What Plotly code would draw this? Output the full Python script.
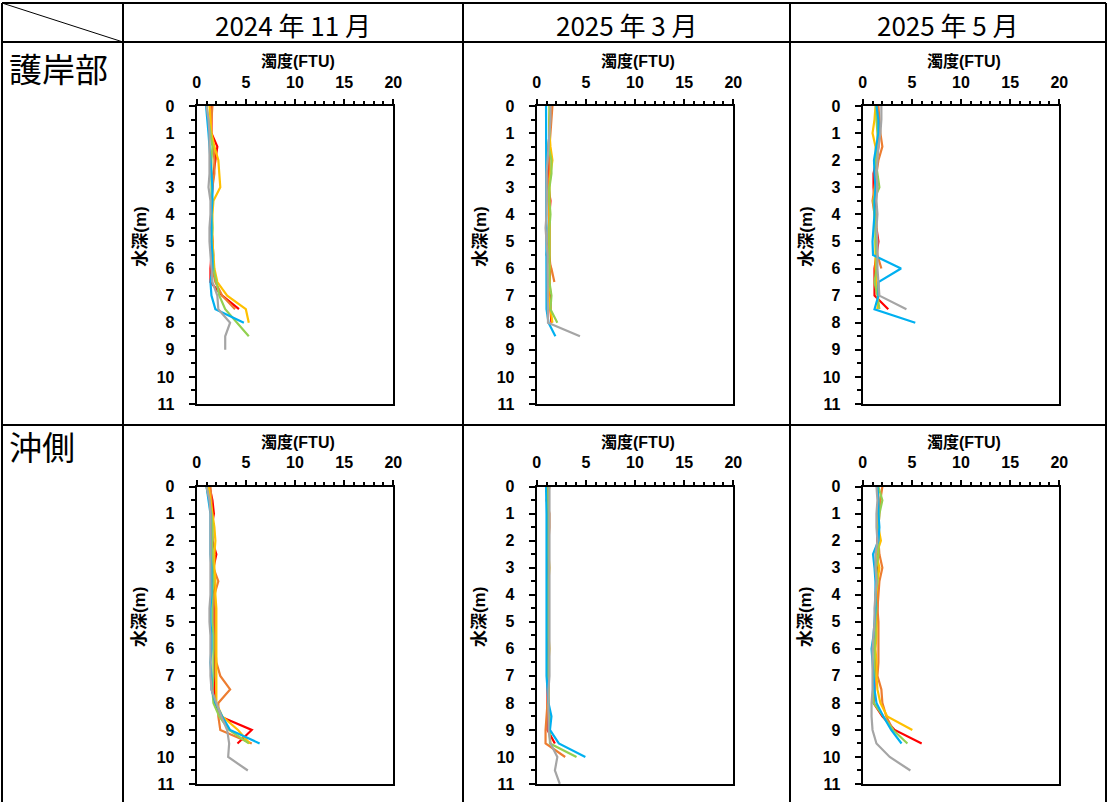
import plotly.graph_objects as go

# ---------------- data ----------------
DEPTHS = [0, 0.5, 1, 1.5, 2, 2.5, 3, 3.5, 4, 4.5, 5, 5.5, 6, 6.5, 7, 7.5, 8, 8.5, 9, 9.5, 10, 10.5, 11]

COL_TITLES = ["2024 年 11 月", "2025 年 3 月", "2025 年 5 月"]
ROW_TITLES = ["護岸部", "沖側"]
X_TITLE = "濁度(FTU)"
Y_TITLE = "水深(m)"
X_TICKS = [0, 5, 10, 15, 20]
Y_TICKS = list(range(0, 12))

SERIES_NAMES = ["系列1", "系列2", "系列3", "系列4", "系列5", "系列6"]
SERIES_COLORS = ["#FF0000", "#ED7D31", "#FFC000", "#92D050", "#00B0F0", "#A5A5A5"]

# 2024年11月 護岸部
p1_red    = [1.5, 1.5, 1.5, 2.1, 1.9, 1.7, 1.6, 1.5, 1.5, 1.5, 1.6, 1.5, 1.4, 1.4, 2.6, 4.3]
p1_orange = [1.6, 1.5, 1.4, 1.7, 1.8, 1.8, 1.6, 1.5, 1.5, 1.5, 1.6, 1.7, 1.6, 1.9, 2.6, 3.9]
p1_yellow = [1.3, 1.4, 1.5, 1.8, 2.2, 2.3, 2.4, 1.7, 1.6, 1.6, 1.6, 1.7, 1.8, 2.1, 3.1, 5.0, 5.3]
p1_green  = [1.0, 1.2, 1.4, 1.6, 1.5, 1.5, 1.5, 1.5, 1.5, 1.6, 1.5, 1.6, 1.7, 2.0, 2.3, 2.9, 4.1, 5.3]
p1_blue   = [0.95, 1.1, 1.2, 1.3, 1.4, 1.5, 1.6, 1.6, 1.5, 1.5, 1.5, 1.6, 1.6, 1.4, 1.5, 1.9, 4.8]
p1_gray   = [1.0, 1.2, 1.3, 1.3, 1.3, 1.3, 1.2, 1.4, 1.4, 1.3, 1.3, 1.4, 1.5, 1.6, 2.1, 2.2, 3.4, 2.9, 2.9]

# 2025年3月 護岸部
p2_red    = [1.4, 1.3, 1.3, 1.2, 1.1, 1.2, 1.2, 1.4, 1.3, 1.3, 1.3, 1.3, 1.4, 1.3, 1.4, 1.4, 1.5]
p2_orange = [1.6, 1.5, 1.4, 1.3, 1.3, 1.3, 1.2, 1.2, 1.3, 1.2, 1.2, 1.0, 1.5, 1.8]
p2_yellow = [1.3, 1.3, 1.3, 1.4, 1.6, 1.4, 1.3, 1.3, 1.3, 1.3, 1.3, 1.3, 1.3, 1.3, 1.2, 1.4, 1.6]
p2_green  = [1.3, 1.3, 1.3, 1.2, 1.5, 1.5, 1.3, 1.3, 1.4, 1.3, 1.3, 1.3, 1.3, 1.3, 1.5, 1.4, 2.1]
p2_blue   = [0.95, 0.95, 0.95, 1.0, 1.0, 1.0, 1.0, 1.0, 1.0, 1.0, 1.0, 1.0, 1.0, 1.0, 1.0, 1.0, 1.2, 1.9]
p2_gray   = [1.4, 1.4, 1.3, 1.2, 1.1, 1.0, 1.0, 1.0, 1.0, 0.9, 1.0, 1.1, 1.1, 1.1, 1.1, 1.1, 1.15, 4.4]

# 2025年5月 護岸部
p3_red    = [1.5, 1.6, 1.6, 1.6, 1.4, 1.1, 1.1, 1.2, 1.3, 1.4, 1.6, 1.4, 1.2, 1.2, 1.2, 2.6]
p3_orange = [1.6, 1.7, 1.8, 2.0, 1.6, 1.4, 1.2, 1.0, 1.2, 1.3, 1.4, 1.5, 1.9]
p3_yellow = [1.3, 1.2, 1.0, 1.3, 1.4, 1.4, 1.3, 1.1, 1.3, 1.4, 1.3, 1.3, 1.3, 1.4, 1.6, 1.5]
p3_green  = [1.4, 1.4, 1.5, 1.5, 1.3, 1.5, 1.7, 1.1, 1.2, 1.3, 1.3, 1.4, 1.4, 1.2, 1.5, 1.7]
p3_blue   = [1.4, 1.6, 1.6, 1.4, 1.15, 1.2, 1.3, 1.2, 1.2, 1.1, 1.0, 1.05, 3.9, 1.6, 1.6, 1.2, 5.35]
p3_gray   = [1.9, 1.9, 1.8, 1.6, 1.5, 1.4, 1.5, 1.4, 1.5, 1.4, 1.5, 1.5, 1.5, 1.6, 1.7, 4.45]

# 2024年11月 沖側
p4_red    = [1.3, 1.6, 1.75, 1.5, 1.6, 2.0, 1.7, 1.7, 1.8, 1.8, 1.8, 1.8, 1.8, 1.8, 1.8, 1.8, 1.9, 2.4, 5.6, 4.15]
p4_orange = [1.4, 1.5, 1.5, 1.6, 1.6, 1.6, 1.7, 2.2, 1.8, 1.9, 1.9, 1.9, 1.9, 2.0, 2.4, 3.4, 2.2, 2.2, 2.4, 5.6]
p4_yellow = [1.2, 1.4, 1.6, 1.8, 1.9, 1.8, 1.8, 1.9, 1.9, 2.0, 2.0, 2.0, 2.0, 2.0, 2.0, 2.0, 2.0, 2.6, 4.2, 5.4]
p4_green  = [1.0, 1.3, 1.5, 1.6, 1.6, 1.6, 1.6, 1.7, 1.6, 1.6, 1.6, 1.7, 1.7, 1.7, 1.7, 1.6, 1.7, 2.3, 3.3, 5.3]
p4_blue   = [1.0, 1.2, 1.4, 1.4, 1.4, 1.4, 1.5, 1.5, 1.5, 1.4, 1.4, 1.5, 1.5, 1.4, 1.5, 1.5, 1.9, 2.6, 3.4, 6.4]
p4_gray   = [1.0, 1.3, 1.4, 1.4, 1.4, 1.4, 1.4, 1.4, 1.4, 1.3, 1.3, 1.4, 1.4, 1.4, 1.4, 1.5, 2.0, 2.5, 3.1, 3.3, 3.2, 5.2]

# 2025年3月 沖側
p5_red    = [1.2, 1.1, 1.1, 1.1, 1.1, 1.1, 1.1, 1.1, 1.1, 1.1, 1.1, 1.1, 1.1, 1.1, 1.1, 1.1, 1.1, 1.1, 1.1, 1.85]
p5_orange = [1.3, 1.0, 1.3, 1.3, 1.2, 1.2, 1.2, 1.2, 1.2, 1.2, 1.2, 1.2, 1.2, 1.2, 1.2, 1.2, 1.1, 1.0, 0.9, 0.9, 2.9]
p5_yellow = [1.2, 1.2, 1.2, 1.2, 1.2, 1.2, 1.3, 1.2, 1.2, 1.2, 1.2, 1.2, 1.3, 1.2, 1.2, 1.2, 1.2, 1.3, 1.3, 1.4]
p5_green  = [1.2, 1.2, 1.2, 1.2, 1.2, 1.2, 1.2, 1.2, 1.2, 1.2, 1.2, 1.2, 1.2, 1.2, 1.2, 1.2, 1.2, 1.3, 1.3, 1.35, 4.05]
p5_blue   = [0.95, 1.0, 1.0, 1.0, 1.0, 1.0, 1.0, 1.0, 1.0, 1.0, 1.0, 1.0, 1.0, 1.0, 1.0, 1.1, 1.2, 1.5, 1.35, 2.25, 4.95]
p5_gray   = [1.3, 1.3, 1.3, 1.3, 1.3, 1.3, 1.3, 1.3, 1.3, 1.3, 1.3, 1.3, 1.3, 1.3, 1.3, 1.2, 1.2, 1.2, 1.2, 1.4, 2.1, 1.85, 2.35]

# 2025年5月 沖側
p6_red    = [1.5, 1.6, 1.5, 1.5, 1.5, 1.5, 1.5, 1.4, 1.5, 1.5, 1.4, 1.3, 1.2, 1.3, 1.2, 1.2, 1.1, 2.0, 3.25, 6.0]
p6_orange = [2.0, 1.8, 1.7, 1.6, 1.6, 1.7, 2.0, 1.7, 1.6, 1.5, 1.6, 1.6, 1.6, 1.6, 1.5, 1.9, 2.0, 2.4, 3.1]
p6_yellow = [1.5, 1.6, 1.5, 1.6, 1.85, 1.4, 1.7, 1.5, 1.4, 1.3, 1.4, 1.4, 1.3, 1.4, 1.4, 1.5, 1.8, 2.5, 5.05]
p6_green  = [1.6, 2.0, 1.7, 1.6, 1.6, 1.6, 1.4, 1.5, 1.3, 1.4, 1.3, 1.3, 1.2, 1.2, 1.2, 1.1, 1.1, 2.1, 3.1, 4.55]
p6_blue   = [1.5, 1.6, 1.6, 1.7, 1.6, 1.05, 1.2, 1.3, 1.3, 1.3, 1.2, 1.1, 0.9, 1.0, 1.1, 1.2, 1.4, 2.1, 2.9, 3.95]
p6_gray   = [1.4, 1.5, 1.4, 1.4, 1.5, 1.3, 1.3, 1.4, 1.3, 1.2, 1.2, 1.1, 1.0, 1.0, 1.0, 1.0, 0.9, 0.9, 1.0, 1.4, 2.75, 4.85]

PANELS = [
    [p1_red, p1_orange, p1_yellow, p1_green, p1_blue, p1_gray],
    [p2_red, p2_orange, p2_yellow, p2_green, p2_blue, p2_gray],
    [p3_red, p3_orange, p3_yellow, p3_green, p3_blue, p3_gray],
    [p4_red, p4_orange, p4_yellow, p4_green, p4_blue, p4_gray],
    [p5_red, p5_orange, p5_yellow, p5_green, p5_blue, p5_gray],
    [p6_red, p6_orange, p6_yellow, p6_green, p6_blue, p6_gray],
]

# ---------------- layout helpers ----------------
W, H = 1108, 802


def fx(x):
    return x / W


def fy(y):
    return 1 - y / H


COL_X = [(196.7, 393.3), (536.7, 733.3), (862.7, 1059.3)]
ROW_Y = [(106, 404), (486.7, 784)]

LATIN = "Liberation Sans, Arial, Noto Sans CJK JP, sans-serif"
CJK = "Noto Sans CJK JP, Liberation Sans, sans-serif"

fig = go.Figure()
layout = {}
annotations = []

for idx, series in enumerate(PANELS):
    r, c = divmod(idx, 3)
    k = idx + 1
    xa = "x" if k == 1 else f"x{k}"
    ya = "y" if k == 1 else f"y{k}"
    for name, color, vals in zip(SERIES_NAMES, SERIES_COLORS, series):
        fig.add_trace(go.Scatter(
            x=vals, y=DEPTHS[:len(vals)], mode="lines", name=name,
            line=dict(color=color, width=2.2), xaxis=xa, yaxis=ya,
            showlegend=False, hoverinfo="x+y"))
    x0, x1 = COL_X[c]
    y0, y1 = ROW_Y[r]
    layout[f"xaxis{k}" if k > 1 else "xaxis"] = dict(
        domain=[fx(x0), fx(x1)], anchor=ya, range=[0, 20], side="top",
        tickvals=X_TICKS, showline=True, linecolor="black", linewidth=2, mirror=True,
        ticks="outside", ticklen=5, tickwidth=1.5, tickcolor="black",
        minor=dict(dtick=1, tick0=0, ticks="outside", ticklen=3, tickwidth=1.5, tickcolor="black"),
        showgrid=False, zeroline=False, fixedrange=True, automargin=False,
        tickfont=dict(family=LATIN, size=16, color="black", weight="bold"),
        ticklabelstandoff=5)
    layout[f"yaxis{k}" if k > 1 else "yaxis"] = dict(
        domain=[fy(y1), fy(y0)], anchor=xa, range=[11, 0],
        tickvals=Y_TICKS, showline=True, linecolor="black", linewidth=2, mirror=True,
        ticks="outside", ticklen=6, tickwidth=1.5, tickcolor="black",
        minor=dict(dtick=0.5, tick0=0, ticks="outside", ticklen=4, tickwidth=1.5, tickcolor="black"),
        showgrid=False, zeroline=False, fixedrange=True, automargin=False,
        tickfont=dict(family=LATIN, size=16, color="black", weight="bold"),
        ticklabelstandoff=11)
    # axis titles
    annotations.append(dict(
        text=X_TITLE, x=fx((x0 + x1) / 2 + 3), y=fy(y0 - 45), xref="paper", yref="paper",
        showarrow=False, xanchor="center", yanchor="middle",
        font=dict(family=LATIN, size=16, color="black", weight="bold")))
    annotations.append(dict(
        text=Y_TITLE, x=fx(x0 - 57), y=fy((y0 + y1) / 2 - 18), xref="paper", yref="paper",
        showarrow=False, xanchor="center", yanchor="middle", textangle=-90,
        font=dict(family=LATIN, size=17, color="black", weight="bold")))

# column headers
for c, title in enumerate(COL_TITLES):
    cx = [(123 + 463) / 2, (463 + 790) / 2, (790 + 1106) / 2][c]
    annotations.append(dict(
        text=title, x=fx(cx), y=fy(24), xref="paper", yref="paper",
        showarrow=False, xanchor="center", yanchor="middle",
        font=dict(family=CJK, size=26, color="black")))

# row headers
for r, title in enumerate(ROW_TITLES):
    ry = [68, 446][r]
    annotations.append(dict(
        text=title, x=fx(7), y=fy(ry), xref="paper", yref="paper",
        showarrow=False, xanchor="left", yanchor="middle",
        font=dict(family=CJK, size=33, color="black")))

# table grid
shapes = []
line_style = dict(color="black", width=2)
for yy in [3, 42, 425]:
    shapes.append(dict(type="line", xref="paper", yref="paper",
                       x0=fx(2), x1=fx(1106), y0=fy(yy), y1=fy(yy), line=line_style))
for xx in [2, 123, 463, 790, 1106]:
    shapes.append(dict(type="line", xref="paper", yref="paper",
                       x0=fx(xx), x1=fx(xx), y0=fy(3), y1=fy(802), line=line_style))
shapes.append(dict(type="line", xref="paper", yref="paper",
                   x0=fx(2), x1=fx(123), y0=fy(3), y1=fy(42),
                   line=dict(color="black", width=1)))

fig.update_layout(
    width=W, height=H, margin=dict(l=0, r=0, t=0, b=0, autoexpand=False),
    paper_bgcolor="white", plot_bgcolor="white",
    showlegend=False, annotations=annotations, shapes=shapes,
    **layout)

fig.write_html("out.html")
